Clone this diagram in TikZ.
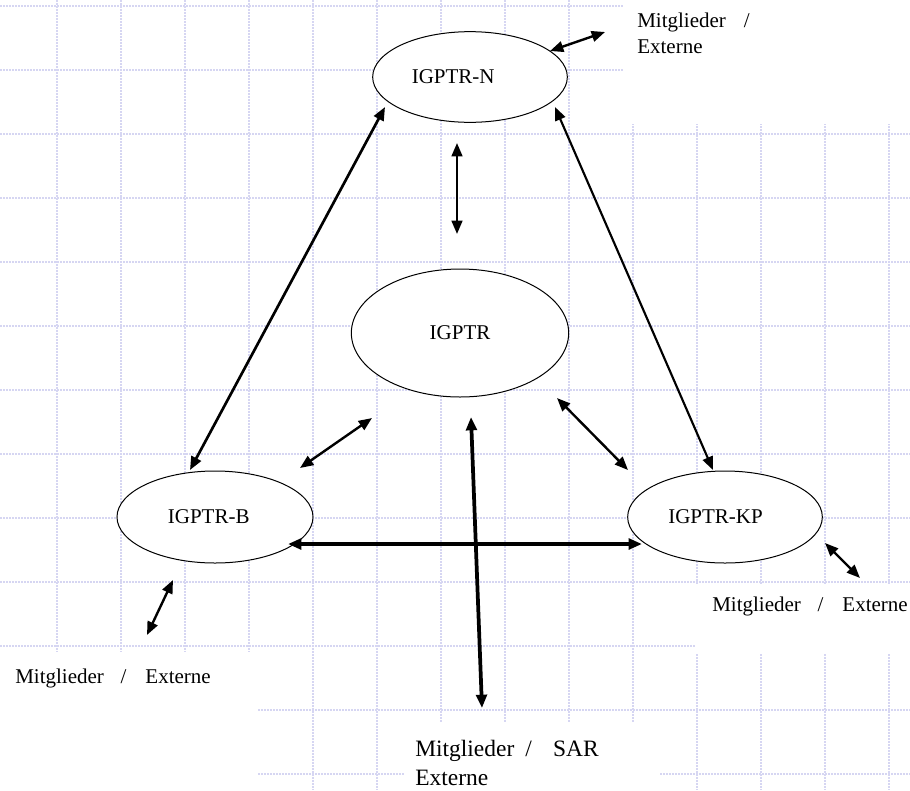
\documentclass[tikz,border=0pt]{standalone}
\usepackage{fontspec}
\setmainfont{Liberation Serif}
\usepackage{tikz}
\usetikzlibrary{arrows.meta,shapes}

\definecolor{gridlila}{RGB}{214,214,242}

\begin{document}
\begin{tikzpicture}[
                    x=0.75pt, y=-0.75pt,
                    grid style/.style={
                        draw=gridlila,
                        line width=1pt,
                        dash pattern=on 1.5pt off 0.75pt
                    },
                    mask style/.style={fill=white, draw=none},
                    node style/.style={
                        ellipse,
                        draw=black,
                        line width=0.75pt,
                        fill=white,
                        inner sep=0pt,
                        font=\fontsize{15.75}{19.5}\selectfont
                    },
                    label style/.style={
                        inner sep=0pt,
                        align=left,
                        font=\fontsize{15.75}{19.5}\selectfont
                    },
                    arrow style/.style={
                        {Triangle[length=10pt,width=8pt]}-{Triangle[length=10pt,width=8pt]},
                        line width=1.8pt
                    },
                    thick arrow style/.style={arrow style, line width=2.8pt}
                ]
                    \useasboundingbox (0,0) rectangle (910,790);
                    % grid
                    \foreach \i in {0,...,13}
                        \draw[grid style] (57+64*\i,0) -- (57+64*\i,790);
                    \foreach \j in {0,...,12}
                        \draw[grid style] (0,6+64*\j) -- (910,6+64*\j);
                    \fill[mask style] (623,0) rectangle (910,124);
                    \fill[mask style] (696,584) rectangle (910,654);
                    \fill[mask style] (405,722) rectangle (660,790);
                    \fill[mask style] (0,652) rectangle (257,790);

                    % ellipses
                    \node[node style, minimum width=146pt, minimum height=68pt] (igptrN) at (470,77) {IGPTR-N\hspace*{1.6em}};
                    \node[node style, minimum width=163pt, minimum height=96pt] (igptr) at (460,333) {IGPTR};
                    \node[node style, minimum width=147pt, minimum height=69pt] (igptrB) at (215,517) {IGPTR-B\hspace*{0.6em}};
                    \node[node style, minimum width=146pt, minimum height=69pt] (igptrKP) at (725,517) {IGPTR-KP\hspace*{0.9em}};

                    % labels
                    \node[label style, anchor=base west] (labelN) at (637,53) {Mitglieder\hspace{0.85em}/\\Externe};
                    \node[label style, anchor=base west] (labelB) at (15,683) {Mitglieder\hspace{0.8em}/\hspace{0.9em}Externe};
                    \node[label style, anchor=base west] (labelKP) at (712,611) {Mitglieder\hspace{0.8em}/\hspace{0.9em}Externe};
                    \node[label style, anchor=base west, font=\fontsize{17.6}{21.5}\selectfont] (labelSAR) at (415,785) {Mitglieder\hspace{0.47em}/\hspace{0.9em}SAR\\Externe};

                    % arrow ends
                    \coordinate (nToLabel) at (550,51);    \coordinate (labelNTip) at (605,32);
                    \coordinate (nToB) at (385,107);       \coordinate (bToN) at (190,470);
                    \coordinate (nToKP) at (555,107);      \coordinate (kpToN) at (713,470);
                    \coordinate (nToCenter) at (457,143);  \coordinate (centerToN) at (457,234);
                    \coordinate (centerToB) at (372,418);  \coordinate (bToCenter) at (300,468);
                    \coordinate (centerToKP) at (557,398); \coordinate (kpToCenter) at (628,470);
                    \coordinate (centerToSAR) at (471,417); \coordinate (sarTip) at (482,708);
                    \coordinate (bToKP) at (288,544);      \coordinate (kpToB) at (642,544);
                    \coordinate (bToLabel) at (173,580);   \coordinate (labelBTip) at (147,635);
                    \coordinate (kpToLabel) at (825,543);  \coordinate (labelKPTip) at (860,578);

                    % arrows
                    \draw[arrow style] (nToLabel) -- (labelNTip);
                    \draw[arrow style, line width=2pt] (nToB) -- (bToN);
                    \draw[arrow style, line width=1.6pt] (nToKP) -- (kpToN);
                    \draw[arrow style] (nToCenter) -- (centerToN);
                    \draw[arrow style] (centerToB) -- (bToCenter);
                    \draw[arrow style] (centerToKP) -- (kpToCenter);
                    \draw[thick arrow style] (centerToSAR) -- (sarTip);
                    \draw[thick arrow style] (bToKP) -- (kpToB);
                    \draw[arrow style] (bToLabel) -- (labelBTip);
                    \draw[arrow style] (kpToLabel) -- (labelKPTip);
                \end{tikzpicture}
\end{document}
